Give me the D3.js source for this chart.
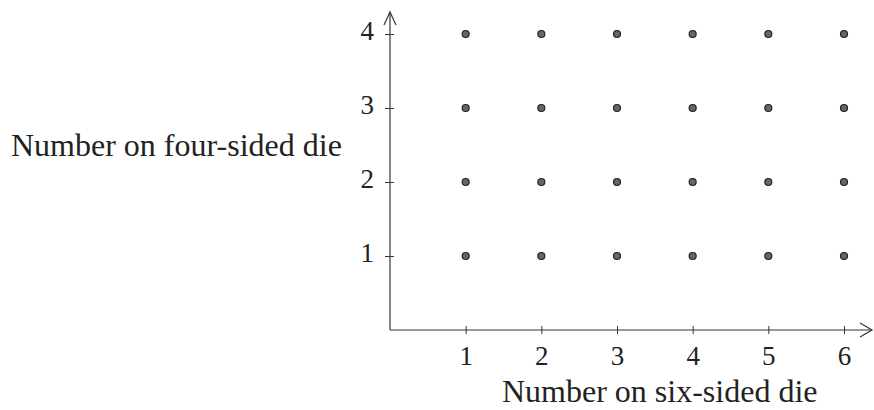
<!DOCTYPE html>
<html>
<head>
<meta charset="utf-8">
<script src="https://cdn.jsdelivr.net/npm/d3@7"></script>
<style>
  body { margin: 0; background: #fff; }
  text { font-family: "Liberation Serif", "Times New Roman", serif; fill: #222; }
</style>
</head>
<body>
<svg id="canvas"></svg>
<script>
// outcomes of each die
let sixSided = [1, 2, 3, 4, 5, 6]
let fourSided = [1, 2, 3, 4]
let xTicks = [1, 2, 3, 4, 5, 6]
let yTicks = [1, 2, 3, 4]
let xTitle = "Number on six-sided die"
let yTitle = "Number on four-sided die"

let width = 874
let height = 410

let svg = d3.select("#canvas")
    .attr("width", width)
    .attr("height", height)

let xScale = d3.scaleLinear().domain([0, 6]).range([390, 844])
let yScale = d3.scaleLinear().domain([0, 4]).range([330, 34])

let points = d3.cross(sixSided, fourSided, (a, b) => ({x: a, y: b}))

let axisColor = "#333"

let drawAxes = () => {
    // x axis with arrow
    let xAxis = d3.axisBottom(xScale)
        .tickValues(xTicks)
        .tickFormat(d3.format("d"))
        .tickSizeInner(0)
        .tickSizeOuter(0)
    let gx = svg.append("g")
        .attr("id", "x-axis")
        .attr("transform", "translate(0," + yScale(0) + ")")
        .call(xAxis)
    gx.select(".domain").remove()
    gx.selectAll(".tick line").remove()
    gx.selectAll(".tick text")
        .attr("font-size", 27)
        .attr("font-family", "Liberation Serif, serif")
        .attr("fill", "#222")
        .attr("y", 35)
        .attr("dy", 0)
    gx.selectAll(".tick").append("line")
        .attr("y1", -4).attr("y2", 4)
        .attr("stroke", axisColor)
    gx.append("line")
        .attr("x1", xScale(0)).attr("x2", 872)
        .attr("stroke", axisColor).attr("stroke-width", 1.2)
    gx.append("path")
        .attr("d", "M860,-7 L872,0 L860,7")
        .attr("fill", "none").attr("stroke", axisColor).attr("stroke-width", 1.2)

    // y axis with arrow
    let yAxis = d3.axisLeft(yScale)
        .tickValues(yTicks)
        .tickFormat(d3.format("d"))
        .tickSizeInner(0)
        .tickSizeOuter(0)
        .tickPadding(16)
    let gy = svg.append("g")
        .attr("id", "y-axis")
        .attr("transform", "translate(" + xScale(0) + ",0)")
        .call(yAxis)
    gy.select(".domain").remove()
    gy.selectAll(".tick line").remove()
    gy.selectAll(".tick text")
        .attr("font-size", 27)
        .attr("font-family", "Liberation Serif, serif")
        .attr("fill", "#222")
        .attr("dy", "0.22em")
    gy.selectAll(".tick").append("line")
        .attr("x1", -5).attr("x2", 4)
        .attr("stroke", axisColor)
    gy.append("line")
        .attr("y1", yScale(0)).attr("y2", 12)
        .attr("stroke", axisColor).attr("stroke-width", 1.2)
    gy.append("path")
        .attr("d", "M-6,25 L0,12 L6,25")
        .attr("fill", "none").attr("stroke", axisColor).attr("stroke-width", 1.2)

    svg.append("text")
        .attr("x", 502)
        .attr("y", 402)
        .attr("font-size", 32)
        .text(xTitle)

    svg.append("text")
        .attr("x", 11)
        .attr("y", 156)
        .attr("font-size", 32)
        .text(yTitle)
}

let drawPoints = () => {
    svg.selectAll("circle")
        .data(points)
        .enter()
        .append("circle")
        .attr("cx", (d) => xScale(d.x))
        .attr("cy", (d) => yScale(d.y))
        .attr("r", 3.5)
        .attr("fill", "#666")
        .attr("stroke", "#222")
        .attr("stroke-width", 1.2)
}

drawAxes()
drawPoints()
</script>
</body>
</html>
